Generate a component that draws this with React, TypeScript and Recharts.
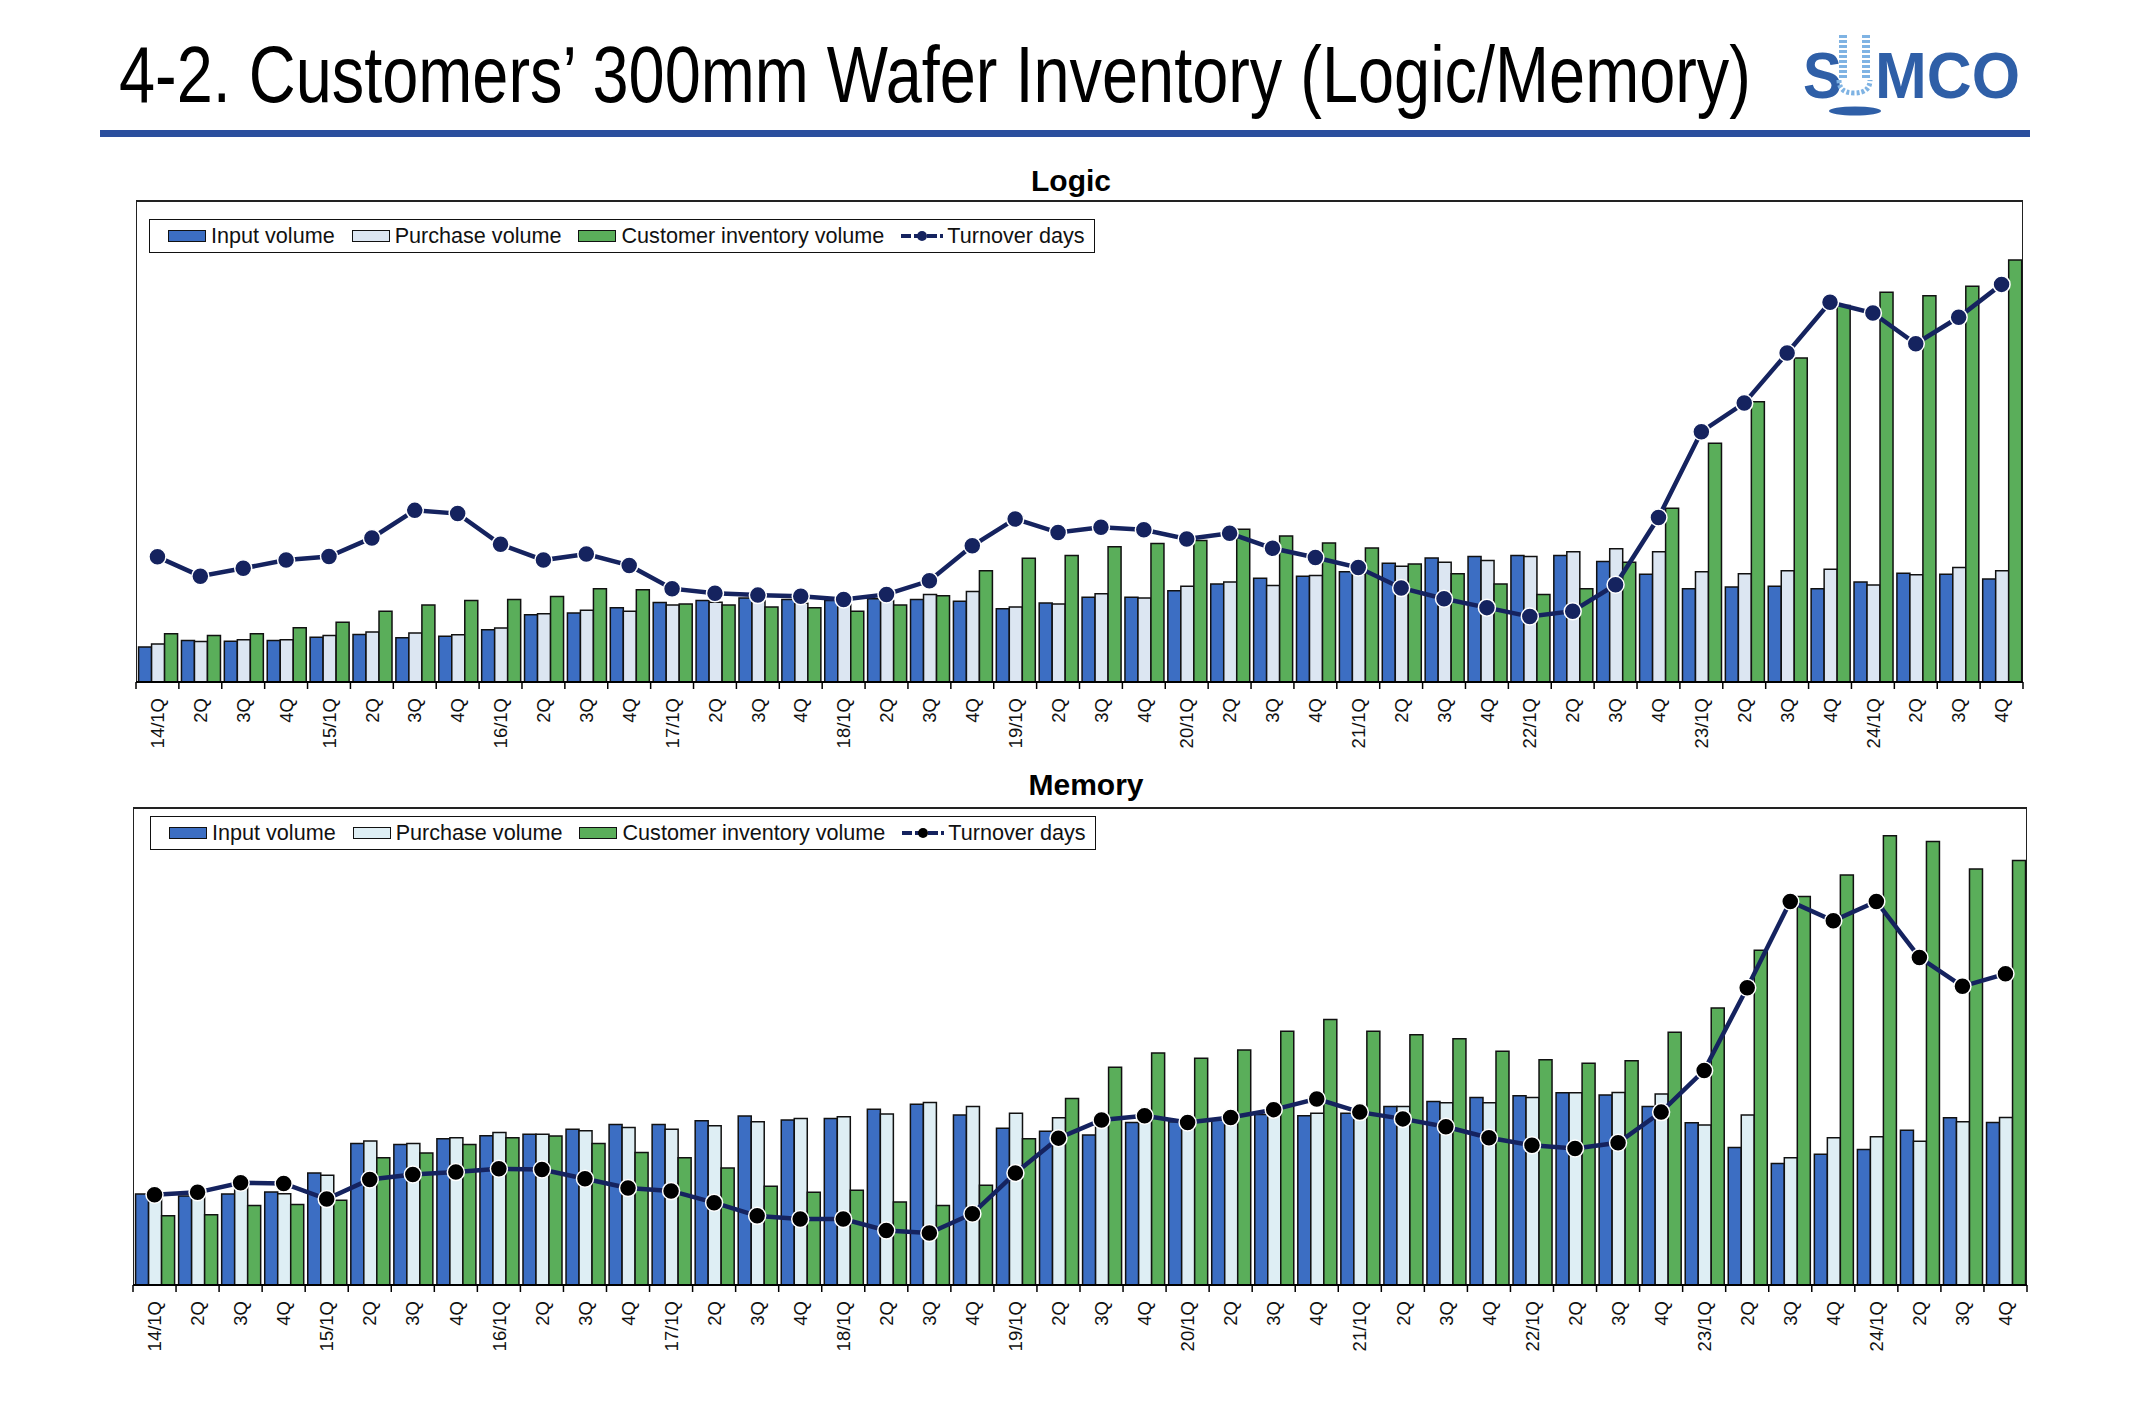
import React, { useLayoutEffect, useRef, useState } from 'react';
import { ComposedChart, Bar, Line, XAxis, YAxis } from 'recharts';

// quarter labels 14/1Q .. 24/4Q
const quarters = [
  '14/1Q', '2Q', '3Q', '4Q', '15/1Q', '2Q', '3Q', '4Q', '16/1Q', '2Q', '3Q', '4Q',
  '17/1Q', '2Q', '3Q', '4Q', '18/1Q', '2Q', '3Q', '4Q', '19/1Q', '2Q', '3Q', '4Q',
  '20/1Q', '2Q', '3Q', '4Q', '21/1Q', '2Q', '3Q', '4Q', '22/1Q', '2Q', '3Q', '4Q',
  '23/1Q', '2Q', '3Q', '4Q', '24/1Q', '2Q', '3Q', '4Q',
];

// Logic (no scale printed, relative units)
const logicInput = [
  98, 116, 114, 116, 125, 133, 124, 128, 146, 188, 193, 208,
  222, 228, 235, 231, 228, 233, 231, 226, 205, 221, 237, 237,
  255, 274, 290, 296, 308, 332, 347, 351, 354, 354, 337, 301,
  261, 266, 268, 261, 280, 304, 301, 288,
];
const logicPurchase = [
  106, 113, 118, 118, 130, 140, 137, 132, 151, 191, 201, 198,
  215, 223, 228, 220, 223, 228, 245, 253, 210, 218, 247, 235,
  268, 280, 270, 298, 303, 324, 335, 340, 351, 364, 373, 364,
  308, 303, 311, 315, 271, 300, 320, 311,
];
const logicInventory = [
  135, 130, 135, 152, 167, 198, 215, 228, 231, 239, 261, 258,
  218, 215, 210, 208, 198, 215, 241, 311, 346, 354, 378, 387,
  396, 427, 408, 389, 375, 330, 303, 274, 245, 261, 335, 486,
  668, 784, 906, 1053, 1090, 1080, 1107, 1180,
];
const logicTurnover = [
  350, 296, 318, 341, 351, 403, 480, 471, 385, 341, 358, 326,
  261, 248, 243, 240, 231, 245, 283, 381, 456, 418, 433, 426,
  400, 416, 374, 348, 320, 263, 233, 208, 183, 198, 272, 460,
  700, 780, 920, 1062, 1032, 946, 1020, 1112,
];

// Memory
const memoryInput = [
  255, 250, 255, 261, 314, 397, 394, 410, 419, 423, 437, 450,
  450, 461, 474, 463, 467, 493, 507, 477, 440, 431, 421, 456,
  458, 463, 478, 475, 482, 501, 515, 526, 531, 539, 533, 501,
  455, 386, 341, 367, 380, 434, 469, 456,
];
const memoryPurchase = [
  250, 258, 273, 256, 308, 404, 397, 413, 428, 423, 433, 442,
  437, 447, 458, 467, 472, 480, 512, 501, 482, 469, 448, 463,
  463, 468, 483, 482, 483, 501, 511, 511, 526, 539, 540, 536,
  449, 477, 357, 413, 416, 403, 458, 470,
];
const memoryInventory = [
  194, 197, 223, 226, 238, 357, 370, 394, 413, 418, 397, 372,
  357, 328, 277, 260, 266, 233, 223, 280, 410, 523, 611, 651,
  636, 659, 712, 745, 712, 702, 691, 656, 632, 622, 629, 709,
  777, 939, 1090, 1150, 1260, 1244, 1167, 1191,
];
const memoryTurnover = [
  253, 260, 287, 285, 241, 296, 310, 317, 326, 324, 298, 272,
  264, 231, 194, 185, 185, 153, 146, 200, 314, 412, 463, 475,
  456, 470, 492, 522, 485, 466, 444, 413, 392, 383, 399, 485,
  602, 834, 1076, 1022, 1076, 919, 838, 873,
];

const seriesNames = ['Input volume', 'Purchase volume', 'Customer inventory volume', 'Turnover days'];

const FONT = '"Liberation Sans", Arial, sans-serif';
const BLUE = '#3c6ec3';
const GREEN = '#5aae5a';
const NAVY = '#15235f';

const build = (inp: number[], pur: number[], inv: number[], turn: number[]) =>
  quarters.map((q, i) => ({ q, input: inp[i], purchase: pur[i], inventory: inv[i], turnover: turn[i] }));

const logicData = build(logicInput, logicPurchase, logicInventory, logicTurnover);
const memoryData = build(memoryInput, memoryPurchase, memoryInventory, memoryTurnover);

// svg text squeezed horizontally to a given width (narrow-font look)
const FitText = ({ x, y, width, children, ...rest }: any) => {
  const ref = useRef<SVGTextElement>(null);
  const [sx, setSx] = useState(1);
  useLayoutEffect(() => {
    if (ref.current) {
      const w = ref.current.getComputedTextLength();
      if (w > 0) setSx(width / w);
    }
  }, [width]);
  return (
    <text ref={ref} x={0} y={0} transform={`translate(${x},${y}) scale(${sx},1)`} {...rest}>
      {children}
    </text>
  );
};

const QuarterTick = (props: any) => {
  const { x, y, payload, index, band } = props;
  const half = band / 2;
  return (
    <g>
      <line x1={x - half} x2={x - half} y1={y} y2={y + 7} stroke="#000" strokeWidth={1.5} />
      {index === quarters.length - 1 && (
        <line x1={x + half} x2={x + half} y1={y} y2={y + 7} stroke="#000" strokeWidth={1.5} />
      )}
      <g transform={`translate(${x},${y + 16}) rotate(-90)`}>
        <text x={0} y={0} dy="0.36em" textAnchor="end" fontSize={18.5} fontFamily={FONT} fill="#111">
          {payload.value}
        </text>
      </g>
    </g>
  );
};

const LegendBox = ({ left, top, purchaseColor, dotColor }: any) => {
  const sw = (bg: string) => (
    <span style={{ display: 'inline-block', width: 38, height: 12, background: bg, border: '1.5px solid #111', boxSizing: 'border-box', marginRight: 5 }} />
  );
  return (
    <div
      style={{
        position: 'absolute', left, top, width: 946, height: 34, border: '1.5px solid #111', boxSizing: 'border-box',
        background: '#fff', display: 'flex', alignItems: 'center', paddingLeft: 18, gap: 17,
        fontFamily: FONT, fontSize: 21.6, color: '#111', whiteSpace: 'nowrap',
      }}
    >
      <span style={{ display: 'flex', alignItems: 'center' }}>{sw(BLUE)}{seriesNames[0]}</span>
      <span style={{ display: 'flex', alignItems: 'center' }}>{sw(purchaseColor)}{seriesNames[1]}</span>
      <span style={{ display: 'flex', alignItems: 'center' }}>{sw(GREEN)}{seriesNames[2]}</span>
      <span style={{ display: 'flex', alignItems: 'center' }}>
        <svg width={42} height={14} style={{ marginRight: 4 }}>
          <line x1={0} x2={42} y1={7} y2={7} stroke={NAVY} strokeWidth={4} strokeDasharray="10 3" />
          <circle cx={21} cy={7} r={5} fill={dotColor} />
        </svg>
        {seriesNames[3]}
      </span>
    </div>
  );
};

type PanelProps = {
  data: any[];
  plotLeft: number;
  plotTop: number;
  plotRight: number;
  plotBottom: number;
  yMax: number;
  purchaseColor: string;
  dotColor: string;
  legendLeft: number;
  legendTop: number;
};

const Panel = ({ data, plotLeft, plotTop, plotRight, plotBottom, yMax, purchaseColor, dotColor, legendLeft, legendTop }: PanelProps) => {
  const boxLeft = plotLeft - 6;
  const boxTop = plotTop - 50;
  const width = plotRight - plotLeft + 12;
  const height = plotBottom - plotTop + 50 + 90;
  const band = (plotRight - plotLeft) / data.length;
  return (
    <>
      <div
        style={{
          position: 'absolute', left: plotLeft, top: plotTop, width: plotRight - plotLeft, height: plotBottom - plotTop,
          borderTop: '2px solid #222', borderLeft: '1.5px solid #222', borderRight: '1.5px solid #222', boxSizing: 'border-box',
        }}
      />
      <div style={{ position: 'absolute', left: boxLeft, top: boxTop }}>
        <ComposedChart
          width={width}
          height={height}
          data={data}
          margin={{ top: 50, right: 6, bottom: 0, left: 6 }}
          barGap={0}
          barCategoryGap="6%"
        >
          <XAxis
            dataKey="q"
            interval={0}
            height={90}
            tickLine={false}
            tickSize={0}
            tickMargin={0}
            axisLine={{ stroke: '#000', strokeWidth: 2 }}
            tick={(p: any) => <QuarterTick {...p} band={band} />}
          />
          <YAxis hide domain={[0, yMax]} />
          <Bar dataKey="input" name={seriesNames[0]} fill={BLUE} stroke="#111" strokeWidth={1.5} isAnimationActive={false} />
          <Bar dataKey="purchase" name={seriesNames[1]} fill={purchaseColor} stroke="#111" strokeWidth={1.5} isAnimationActive={false} />
          <Bar dataKey="inventory" name={seriesNames[2]} fill={GREEN} stroke="#111" strokeWidth={1.5} isAnimationActive={false} />
          <Line
            type="linear"
            dataKey="turnover"
            name={seriesNames[3]}
            stroke={NAVY}
            strokeWidth={4.5}
            dot={{ r: 8.5, fill: dotColor, stroke: '#fff', strokeWidth: 1.5 }}
            activeDot={false}
            isAnimationActive={false}
          />
        </ComposedChart>
      </div>
      <LegendBox left={legendLeft} top={legendTop} purchaseColor={purchaseColor} dotColor={dotColor} />
    </>
  );
};

const Header = () => (
  <svg width={2129} height={1426} style={{ position: 'absolute', left: 0, top: 0 }}>
    <FitText x={119} y={102} width={1632} fontSize={80} fontFamily={'"Liberation Sans Narrow", ' + FONT} fill="#000">
      4-2. Customers’ 300mm Wafer Inventory (Logic/Memory)
    </FitText>
    <rect x={100} y={130} width={1930} height={7} fill="#2b4f9e" />
    {/* logo */}
    <FitText x={1803} y={98} width={39} fontSize={64} fontWeight="bold" fontFamily={FONT} fill="#2f5fa7">S</FitText>
    {Array.from({ length: 9 }).map((_, i) => (
      <g key={i}>
        <rect x={1839} y={35 + i * 5} width={8} height={3} fill="#7fb3e3" />
        <rect x={1862} y={35 + i * 5} width={8} height={3} fill="#7fb3e3" />
      </g>
    ))}
    <path d="M1839 80 Q1839 93 1854 93 Q1870 93 1870 80" fill="none" stroke="#7fb3e3" strokeWidth={5} strokeDasharray="3 2" />
    <FitText x={1875} y={98} width={145} fontSize={64} fontWeight="bold" fontFamily={FONT} fill="#2f5fa7">MCO</FitText>
    <ellipse cx={1855} cy={111} rx={26} ry={4.5} fill="#2f5fa7" />
    <text x={1071} y={191} fontSize={30} fontWeight="bold" fontFamily={FONT} textAnchor="middle" fill="#000">Logic</text>
    <text x={1086} y={795} fontSize={30} fontWeight="bold" fontFamily={FONT} textAnchor="middle" fill="#000">Memory</text>
  </svg>
);

const App = () => (
  <div style={{ position: 'absolute', left: 0, top: 0, width: 2129, height: 1426, background: '#fff', fontFamily: FONT, overflow: 'hidden' }}>
    <Header />
    <Panel
      data={logicData}
      plotLeft={136}
      plotTop={200}
      plotRight={2023}
      plotBottom={682}
      yMax={1348}
      purchaseColor="#dce6f2"
      dotColor={NAVY}
      legendLeft={149}
      legendTop={219}
    />
    <Panel
      data={memoryData}
      plotLeft={133}
      plotTop={807}
      plotRight={2027}
      plotBottom={1285}
      yMax={1341}
      purchaseColor="#deeef4"
      dotColor="#000"
      legendLeft={150}
      legendTop={816}
    />
  </div>
);

export default App;
